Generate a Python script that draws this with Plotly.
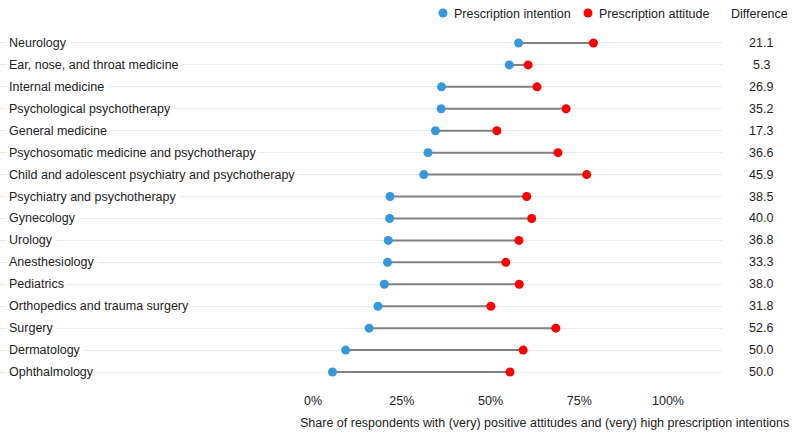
import plotly.graph_objects as go

categories = [
    "Neurology", "Ear, nose, and throat medicine", "Internal medicine",
    "Psychological psychotherapy", "General medicine",
    "Psychosomatic medicine and psychotherapy",
    "Child and adolescent psychiatry and psychotherapy",
    "Psychiatry and psychotherapy", "Gynecology", "Urology", "Anesthesiology",
    "Pediatrics", "Orthopedics and trauma surgery", "Surgery", "Dermatology",
    "Ophthalmology",
]
intention = [57.9, 55.3, 36.2, 36.1, 34.5, 32.4, 31.2, 21.7, 21.6, 21.2, 21.0, 20.1, 18.3, 15.8, 9.2, 5.5]
attitude = [79.0, 60.6, 63.1, 71.3, 51.8, 69.0, 77.1, 60.2, 61.6, 58.0, 54.3, 58.1, 50.1, 68.4, 59.2, 55.5]
difference = ["21.1", "5.3", "26.9", "35.2", "17.3", "36.6", "45.9", "38.5", "40.0", "36.8", "33.3", "38.0", "31.8", "52.6", "50.0", "50.0"]
tick_vals = [0, 25, 50, 75, 100]
tick_text = ["0%", "25%", "50%", "75%", "100%"]

BLUE = "#3498db"
RED = "#ff0000"
FONT = "Liberation Sans, Arial, sans-serif"
FS = 12.5
TXT = "#222222"

W, H = 799, 439
ML, MR, MT, MB = 0, 77, 32, 56
PW = W - ML - MR
PH = H - MT - MB

fig = go.Figure()

# connector lines
lx, ly = [], []
for c, a, b in zip(categories, intention, attitude):
    lx += [a, b, None]
    ly += [c, c, None]
fig.add_trace(go.Scatter(x=lx, y=ly, mode="lines", line=dict(color="#808080", width=2),
                         hoverinfo="skip", showlegend=False))
fig.add_trace(go.Scatter(x=intention, y=categories, mode="markers", name="Prescription intention",
                         marker=dict(color=BLUE, size=9), showlegend=False))
fig.add_trace(go.Scatter(x=attitude, y=categories, mode="markers", name="Prescription attitude",
                         marker=dict(color=RED, size=9), showlegend=False))

px_per = (668 - 313) / 100.0
x0 = -313 / px_per
x1 = (PW - 313) / px_per

def px_to_paper_x(px):
    return (px - ML) / PW

annotations = []
for c, d in zip(categories, difference):
    annotations.append(dict(x=0, xref="paper", y=c, yref="y", text=c, showarrow=False,
                            xanchor="left", xshift=6, bgcolor="white", borderpad=2,
                            font=dict(family=FONT, size=FS, color=TXT)))
    annotations.append(dict(x=px_to_paper_x(761), xref="paper", y=c, yref="y", text=d,
                            showarrow=False, xanchor="center",
                            font=dict(family=FONT, size=FS, color=TXT)))

# header + legend
annotations.append(dict(x=px_to_paper_x(759), xref="paper", y=1, yref="paper", yshift=18,
                        text="Difference", showarrow=False, xanchor="center", yanchor="middle",
                        font=dict(family=FONT, size=FS, color=TXT)))
annotations.append(dict(x=px_to_paper_x(452), xref="paper", y=1, yref="paper", yshift=18,
                        text="Prescription intention", showarrow=False, xanchor="left", yanchor="middle",
                        font=dict(family=FONT, size=FS, color=TXT)))
annotations.append(dict(x=px_to_paper_x(597), xref="paper", y=1, yref="paper", yshift=18,
                        text="Prescription attitude", showarrow=False, xanchor="left", yanchor="middle",
                        font=dict(family=FONT, size=FS, color=TXT)))
# axis title
annotations.append(dict(x=px_to_paper_x(791), xref="paper", y=0, yref="paper", yshift=-40,
                        text="Share of respondents with (very) positive attitudes and (very) high prescription intentions",
                        showarrow=False, xanchor="right", yanchor="middle",
                        font=dict(family=FONT, size=FS, color=TXT)))

shapes = []
for cx, col in [(443, BLUE), (588, RED)]:
    shapes.append(dict(type="circle", xref="paper", yref="paper", xsizemode="pixel", ysizemode="pixel",
                       xanchor=px_to_paper_x(cx), yanchor=1, x0=-4.5, x1=4.5, y0=14.5, y1=23.5,
                       fillcolor=col, line=dict(width=0)))

fig.update_layout(
    width=W, height=H,
    margin=dict(l=ML, r=MR, t=MT, b=MB),
    plot_bgcolor="white", paper_bgcolor="white",
    font=dict(family=FONT, size=FS, color=TXT),
    xaxis=dict(range=[x0, x1], tickvals=tick_vals, ticktext=tick_text, showgrid=False,
               zeroline=False, showline=False, ticks="", ticklabelstandoff=8,
               tickfont=dict(family=FONT, size=FS, color=TXT), fixedrange=True),
    yaxis=dict(categoryorder="array", categoryarray=categories,
               range=[len(categories) - 0.5, -0.5],
               showticklabels=False, showgrid=True, gridcolor="#e9e9e9", gridwidth=1,
               zeroline=False, showline=False, ticks="", fixedrange=True),
    annotations=annotations,
    shapes=shapes,
    showlegend=False,
)

fig.write_html("out.html", config={"displayModeBar": False},
               post_script="document.body.style.margin='0px';")
